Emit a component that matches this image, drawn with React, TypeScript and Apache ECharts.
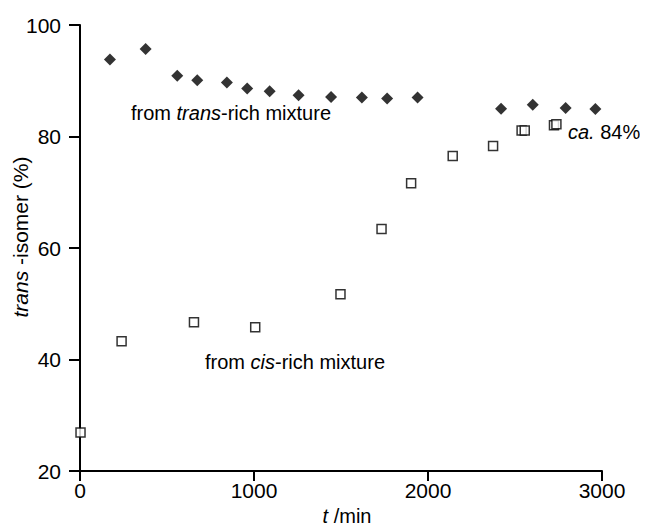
import React, { useEffect, useRef } from "react";
import * as echarts from "echarts";

const transTime = [172, 377, 559, 674, 844, 961, 1090, 1256, 1443, 1620, 1765, 1940, 2420, 2602, 2791, 2962];
const transValue = [93.8, 95.7, 90.9, 90.1, 89.7, 88.6, 88.1, 87.4, 87.1, 87.0, 86.8, 87.0, 85.0, 85.7, 85.1, 84.95];

const cisTime = [3, 239, 655, 1007, 1497, 1733, 1903, 2142, 2374, 2538, 2556, 2724, 2738];
const cisValue = [26.9, 43.3, 46.7, 45.8, 51.7, 63.4, 71.6, 76.5, 78.3, 81.1, 81.1, 82.0, 82.2];

const xTicks = [0, 1000, 2000, 3000];
const yTicks = [20, 40, 60, 80, 100];

const FONT = "'Liberation Sans', Arial, Helvetica, sans-serif";
const TXT = "#000";

export default function App() {
  const ref = useRef<HTMLDivElement>(null);
  useEffect(() => {
    if (!ref.current) return;
    const chart = echarts.init(ref.current, undefined, { renderer: "svg" });
    const axisLine = { show: true, lineStyle: { color: "#000", width: 2 } };
    const italic = (size: number) => ({ fontStyle: "italic", fontSize: size, fontFamily: FONT, fill: TXT, color: TXT });
    chart.setOption({
      animation: false,
      backgroundColor: "#fff",
      grid: { left: 80, right: 46, top: 25, bottom: 43.5, containLabel: false },
      xAxis: {
        type: "value",
        min: xTicks[0],
        max: xTicks[xTicks.length - 1],
        interval: 1000,
        axisLine,
        axisTick: { show: true, inside: false, length: 10, lineStyle: { color: "#000", width: 2 } },
        axisLabel: { color: TXT, fontSize: 21, fontFamily: FONT, margin: 9, formatter: (v: number) => String(v) },
        splitLine: { show: false },
        name: "{i|t} /min",
        nameLocation: "middle",
        nameGap: 27,
        nameTextStyle: {
          color: TXT,
          fontSize: 20,
          fontFamily: FONT,
          padding: [0, 0, 0, 12],
          rich: { i: italic(20) },
        },
      },
      yAxis: {
        type: "value",
        min: yTicks[0],
        max: yTicks[yTicks.length - 1],
        interval: 20,
        axisLine,
        axisTick: { show: true, inside: false, length: 11, lineStyle: { color: "#000", width: 2 } },
        axisLabel: { color: TXT, fontSize: 21, fontFamily: FONT, margin: 19, formatter: (v: number) => String(v) },
        splitLine: { show: false },
      },
      graphic: [
        {
          type: "text",
          x: 20,
          y: 237,
          rotation: Math.PI / 2,
          style: {
            text: "{i|trans} -isomer (%)",
            fontSize: 21,
            fontFamily: FONT,
            fill: TXT,
            align: "center",
            verticalAlign: "middle",
            rich: { i: italic(21) },
          },
        },
        {
          type: "text",
          x: 131,
          y: 113,
          style: {
            text: "from {i|trans}-rich mixture",
            fontSize: 20,
            fontFamily: FONT,
            fill: TXT,
            verticalAlign: "middle",
            rich: { i: italic(20) },
          },
        },
        {
          type: "text",
          x: 205,
          y: 362,
          style: {
            text: "from {i|cis}-rich mixture",
            fontSize: 20,
            fontFamily: FONT,
            fill: TXT,
            verticalAlign: "middle",
            rich: { i: italic(20) },
          },
        },
        {
          type: "text",
          x: 568,
          y: 132,
          style: {
            text: "{i|ca.} 84%",
            fontSize: 20,
            fontFamily: FONT,
            fill: TXT,
            verticalAlign: "middle",
            rich: { i: italic(20) },
          },
        },
      ],
      series: [
        {
          type: "scatter",
          data: transTime.map((t, i) => [t, transValue[i]]),
          symbol: "diamond",
          symbolSize: 12,
          itemStyle: { color: "#000" },
        },
        {
          type: "scatter",
          data: cisTime.map((t, i) => [t, cisValue[i]]),
          symbol: "rect",
          symbolSize: 9,
          itemStyle: { color: "#fff", borderColor: "#000", borderWidth: 1.5 },
        },
      ],
    });
    return () => chart.dispose();
  }, []);
  return <div ref={ref} style={{ width: 648, height: 531, margin: -8 }} />;
}
